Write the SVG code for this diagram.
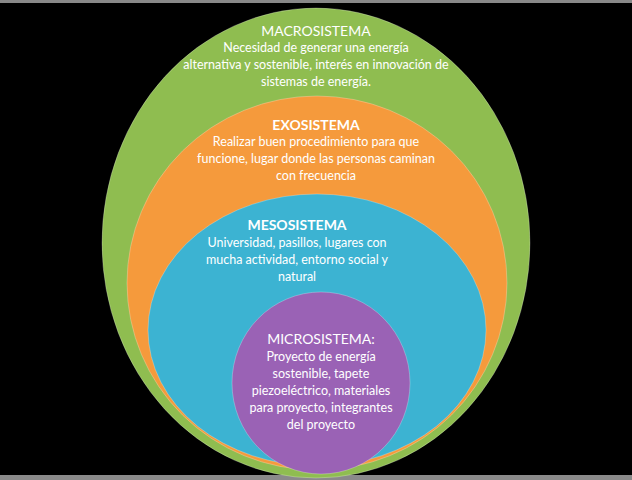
<svg xmlns="http://www.w3.org/2000/svg" width="632" height="480" viewBox="0 0 632 480">
<style>
text{font-family:Lato,"Open Sans",sans-serif;fill:#fff;font-size:12.5px;text-anchor:middle}
.t{font-size:14px}
.b{font-weight:bold}
ellipse{stroke:#fff;stroke-opacity:0.25;stroke-width:1}
</style>
<rect width="632" height="480" fill="#000"/>
<rect x="0" y="0" width="632" height="3" fill="#888"/>
<rect x="0" y="475" width="632" height="5" fill="#8a8a8a"/>
<g id="macro"><ellipse cx="316" cy="243" rx="214" ry="235" fill="#8fbd50"/>
<text class="t" x="316" y="36">MACROSISTEMA</text>
<text x="316" y="52">Necesidad de generar una energía</text>
<text x="316" y="69">alternativa y sostenible, interés en innovación de</text>
<text x="316" y="86">sistemas de energía.</text></g>
<g id="exo"><ellipse cx="317" cy="283" rx="190" ry="187" fill="#f59a3c"/>
<text class="t b" x="316" y="130">EXOSISTEMA</text>
<text x="316" y="146">Realizar buen procedimiento para que</text>
<text x="316" y="163">funcione, lugar donde las personas caminan</text>
<text x="316" y="180">con frecuencia</text></g>
<g id="meso"><ellipse cx="317" cy="330" rx="169" ry="136" fill="#3cb3d2"/>
<text class="t b" x="297" y="230">MESOSISTEMA</text>
<text x="297" y="247">Universidad, pasillos, lugares con</text>
<text x="297" y="264">mucha actividad, entorno social y</text>
<text x="297" y="281">natural</text></g>
<g id="micro"><ellipse cx="321" cy="383" rx="89" ry="91" fill="#9a62b5"/>
<text class="t" x="321" y="344">MICROSISTEMA:</text>
<text x="321" y="361">Proyecto de energía</text>
<text x="321" y="378">sostenible, tapete</text>
<text x="321" y="395">piezoeléctrico, materiales</text>
<text x="321" y="412">para proyecto, integrantes</text>
<text x="321" y="429">del proyecto</text></g>
<g id="connectors"/>
</svg>
